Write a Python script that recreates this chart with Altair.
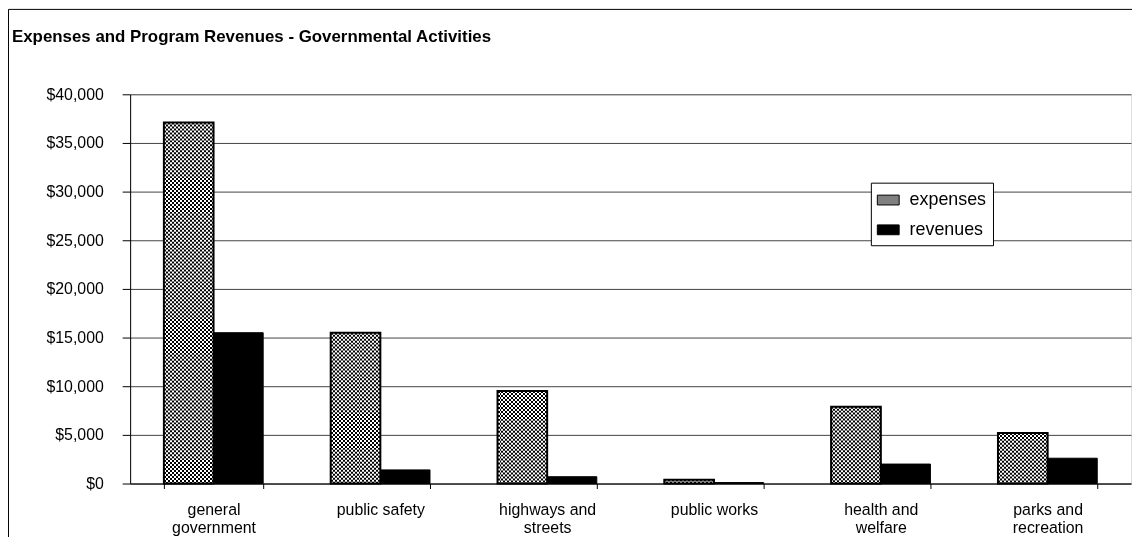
import altair as alt
import pandas as pd

# ---- data ----
CATEGORY_LINES = [
    ["general", "government"],
    ["public safety"],
    ["highways and", "streets"],
    ["public works"],
    ["health and", "welfare"],
    ["parks and", "recreation"],
]
CATEGORIES = [" ".join(l) for l in CATEGORY_LINES]
EXPENSES = [37100, 15500, 9500, 400, 7900, 5200]
REVENUES = [15500, 1400, 700, 100, 2000, 2600]
SERIES = ["expenses", "revenues"]
Y_TICKS = [0, 5000, 10000, 15000, 20000, 25000, 30000, 35000, 40000]
TITLE = "Expenses and Program Revenues - Governmental Activities"

rows = []
for c, e, r in zip(CATEGORIES, EXPENSES, REVENUES):
    rows.append({"category": c, "series": "expenses", "value": e})
    rows.append({"category": c, "series": "revenues", "value": r})
df = pd.DataFrame(rows)
exp_df = df[df.series == "expenses"]

FONT = "Liberation Sans"
W, H = 1008, 392
BAR_W = 50

# multi-line category labels
label_expr = ""
for c, lines in zip(CATEGORIES, CATEGORY_LINES):
    arr = "[" + ",".join("'" + s + "'" for s in lines) + "]"
    label_expr += f"datum.label == '{c}' ? {arr} : "
label_expr += "datum.label"

x_scale = alt.Scale(domain=CATEGORIES, paddingInner=68 / 168, paddingOuter=34 / 168)
y_scale = alt.Scale(domain=[0, 40000], nice=False)

x_enc = alt.X(
    "category:N",
    scale=x_scale,
    sort=CATEGORIES,
    axis=alt.Axis(
        title=None, labelAngle=0, tickBand="extent", tickSize=5, tickColor="black",
        domainColor="black", labelExpr=label_expr, labelFontSize=16, labelFont=FONT,
        labelColor="black", labelPadding=13, labelLineHeight=18, grid=False,
    ),
)
y_enc = alt.Y(
    "value:Q",
    scale=y_scale,
    axis=alt.Axis(
        title=None, values=Y_TICKS, format="$,.0f", tickSize=8, tickColor="black",
        domainColor="black", labelFontSize=16, labelFont=FONT, labelColor="black",
        labelPadding=19, grid=True, gridColor="#444444", gridWidth=1,
    ),
)

# base bars (gives the legend): grey for expenses, black for revenues
base = alt.Chart(df).mark_bar(stroke="black", strokeWidth=1).encode(
    x=x_enc,
    y=y_enc,
    xOffset=alt.XOffset("series:N", sort=SERIES, scale=alt.Scale(paddingInner=0, paddingOuter=0)),
    color=alt.Color(
        "series:N",
        scale=alt.Scale(domain=SERIES, range=["#808080", "#000000"]),
        legend=alt.Legend(
            title=None, orient="none", legendX=746, legendY=89,
            strokeColor="black", fillColor="white", padding=6,
            labelFontSize=18, labelFont=FONT, labelColor="black",
            symbolType="M-1,-0.45L1,-0.45L1,0.45L-1,0.45Z", symbolSize=484,
            symbolStrokeColor="black", symbolStrokeWidth=1,
            rowPadding=9, labelOffset=10,
        ),
    ),
)

# checkerboard pattern for expenses: white base, horizontal dashes, vertical stripes (difference blend)
white_base = alt.Chart(exp_df).mark_bar(fill="white", width=BAR_W, xOffset=-BAR_W / 2).encode(
    x=alt.X("category:N", scale=x_scale, sort=CATEGORIES), y=alt.Y("value:Q", scale=y_scale)
)
dashes = alt.Chart(exp_df).mark_rule(
    color="black", strokeWidth=BAR_W, strokeDash=[2, 2], strokeCap="butt", xOffset=-BAR_W / 2
).encode(
    x=alt.X("category:N", scale=x_scale, sort=CATEGORIES),
    y=alt.Y("value:Q", scale=y_scale),
    y2=alt.datum(0),
)
stops = []
n = BAR_W // 2
for k in range(n):
    col = "black" if k % 2 == 0 else "white"
    stops.append({"offset": k / n, "color": col})
    stops.append({"offset": (k + 1) / n, "color": col})
grad = {"gradient": "linear", "x1": 0, "y1": 0, "x2": 1, "y2": 0, "stops": stops}
stripes = alt.Chart(exp_df).mark_bar(fill=grad, blend="difference", width=BAR_W, xOffset=-BAR_W / 2).encode(
    x=alt.X("category:N", scale=x_scale, sort=CATEGORIES), y=alt.Y("value:Q", scale=y_scale)
)
outline = alt.Chart(exp_df).mark_bar(
    fillOpacity=0, stroke="black", strokeWidth=2, width=BAR_W, xOffset=-BAR_W / 2
).encode(x=alt.X("category:N", scale=x_scale, sort=CATEGORIES), y=alt.Y("value:Q", scale=y_scale))

# outer frame of the chart box
one = pd.DataFrame({"k": [0]})
frame_left = alt.Chart(one).mark_rule(color="black", strokeWidth=1).encode(
    x=alt.value(-122.5), y=alt.value(-85.5), y2=alt.value(700)
)
frame_top = alt.Chart(one).mark_rule(color="black", strokeWidth=1).encode(
    x=alt.value(-122.5), x2=alt.value(1100), y=alt.value(-85.5)
)

chart = alt.layer(base, white_base, dashes, stripes, outline, frame_left, frame_top).properties(
    width=W,
    height=H,
    title=alt.TitleParams(
        TITLE, anchor="start", frame="group", fontSize=17, fontWeight="bold", font=FONT,
        color="black", dx=-119, dy=50, offset=0, baseline="alphabetic",
    ),
    padding={"left": 123, "top": 85, "right": 1, "bottom": 60},
    autosize=alt.AutoSizeParams(type="none"),
).configure_view(stroke=None).configure(background="white")

chart.save("out.html", embed_options={"renderer": "svg", "actions": False})
